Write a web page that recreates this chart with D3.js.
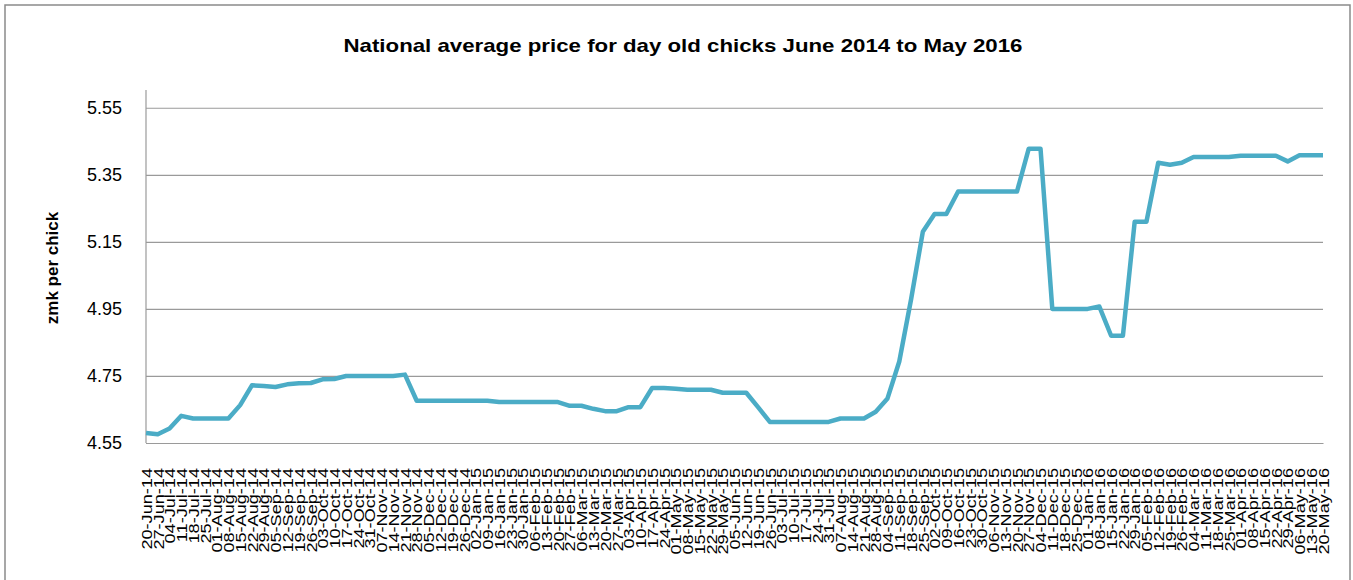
<!DOCTYPE html>
<html>
<head>
<meta charset="utf-8">
<script src="https://cdn.jsdelivr.net/npm/d3@7"></script>
<style>
    body { margin: 0; background: #fff; }
    #chart-area text { font-family: "Liberation Sans", Arial, sans-serif; fill: #000; }
</style>
</head>
<body>
<div id="chart-area"></div>
<script>
/* * * * * * * * * * * * * *
 *   Day old chick prices  *
 * * * * * * * * * * * * * */

// weekly dates (category axis)
const weekLabels = [
    "20-Jun-14","27-Jun-14","04-Jul-14","11-Jul-14","18-Jul-14","25-Jul-14","01-Aug-14","08-Aug-14",
    "15-Aug-14","22-Aug-14","29-Aug-14","05-Sep-14","12-Sep-14","19-Sep-14","26-Sep-14","03-Oct-14",
    "10-Oct-14","17-Oct-14","24-Oct-14","31-Oct-14","07-Nov-14","14-Nov-14","21-Nov-14","28-Nov-14",
    "05-Dec-14","12-Dec-14","19-Dec-14","26-Dec-14","02-Jan-15","09-Jan-15","16-Jan-15","23-Jan-15",
    "30-Jan-15","06-Feb-15","13-Feb-15","20-Feb-15","27-Feb-15","06-Mar-15","13-Mar-15","20-Mar-15",
    "27-Mar-15","03-Apr-15","10-Apr-15","17-Apr-15","24-Apr-15","01-May-15","08-May-15","15-May-15",
    "22-May-15","29-May-15","05-Jun-15","12-Jun-15","19-Jun-15","26-Jun-15","03-Jul-15","10-Jul-15",
    "17-Jul-15","24-Jul-15","31-Jul-15","07-Aug-15","14-Aug-15","21-Aug-15","28-Aug-15","04-Sep-15",
    "11-Sep-15","18-Sep-15","25-Sep-15","02-Oct-15","09-Oct-15","16-Oct-15","23-Oct-15","30-Oct-15",
    "06-Nov-15","13-Nov-15","20-Nov-15","27-Nov-15","04-Dec-15","11-Dec-15","18-Dec-15","25-Dec-15",
    "01-Jan-16","08-Jan-16","15-Jan-16","22-Jan-16","29-Jan-16","05-Feb-16","12-Feb-16","19-Feb-16",
    "26-Feb-16","04-Mar-16","11-Mar-16","18-Mar-16","25-Mar-16","01-Apr-16","08-Apr-16","15-Apr-16",
    "22-Apr-16","29-Apr-16","06-May-16","13-May-16","20-May-16"
];

// national average price, zmk per chick
const priceValues = [
    4.580, 4.576, 4.593, 4.631, 4.623, 4.623, 4.623, 4.623, 4.663, 4.722,
    4.720, 4.717, 4.725, 4.728, 4.729, 4.740, 4.741, 4.750, 4.750, 4.750,
    4.750, 4.750, 4.754, 4.676, 4.676, 4.676, 4.676, 4.676, 4.676, 4.676,
    4.672, 4.672, 4.672, 4.672, 4.672, 4.672, 4.661, 4.661, 4.652, 4.645,
    4.645, 4.657, 4.657, 4.714, 4.714, 4.712, 4.709, 4.709, 4.709, 4.700,
    4.700, 4.700, 4.657, 4.613, 4.613, 4.613, 4.613, 4.613, 4.613, 4.623,
    4.623, 4.623, 4.643, 4.683, 4.793, 4.978, 5.180, 5.233, 5.233, 5.300,
    5.300, 5.300, 5.300, 5.300, 5.300, 5.428, 5.428, 4.950, 4.950, 4.950,
    4.950, 4.957, 4.870, 4.870, 5.210, 5.210, 5.386, 5.380, 5.386, 5.403,
    5.403, 5.403, 5.403, 5.407, 5.407, 5.407, 5.407, 5.390, 5.408, 5.408,
    5.408
];

const yTicks = [4.55, 4.75, 4.95, 5.15, 5.35, 5.55];
const yDomain = [4.55, 5.60];

const chartTitle = "National average price for day old chicks June 2014 to May 2016";
const yTitle = "zmk per chick";


class PriceLine {
    constructor(parentElement, labels, values) {
        this.parentElement = parentElement;
        this.labels = labels;
        this.values = values;

        this.initVis();
    }

    initVis() {
        let vis = this;

        vis.width = 1353;
        vis.height = 580;
        vis.plot = { left: 146, right: 1323, top: 91, bottom: 443 };

        vis.svg = d3.select('#' + vis.parentElement)
            .append('svg')
            .attr('width', vis.width)
            .attr('height', vis.height);

        vis.svg.append('rect')
            .attr('width', vis.width).attr('height', vis.height)
            .attr('fill', '#fff');

        // chart border
        vis.svg.append('rect')
            .attr('x', 5).attr('y', 5)
            .attr('width', 1345).attr('height', 600)
            .attr('fill', 'none')
            .attr('stroke', '#8a8a8a')
            .attr('stroke-width', 1.5);

        vis.x = d3.scalePoint()
            .domain(vis.labels)
            .range([vis.plot.left, vis.plot.right]);

        vis.y = d3.scaleLinear()
            .domain(yDomain)
            .range([vis.plot.bottom, vis.plot.top]);

        // title
        vis.svg.append('text')
            .attr('x', 683)
            .attr('y', 52)
            .attr('text-anchor', 'middle')
            .attr('font-size', 19)
            .attr('font-weight', 'bold')
            .attr('textLength', 679)
            .attr('lengthAdjust', 'spacingAndGlyphs')
            .text(chartTitle);

        // y title
        vis.svg.append('text')
            .attr('transform', 'translate(58, 268) rotate(-90)')
            .attr('text-anchor', 'middle')
            .attr('font-size', 17)
            .attr('font-weight', 'bold')
            .text(yTitle);

        vis.updateVis();
    }

    updateVis() {
        let vis = this;

        // y axis + gridlines
        let yAxis = d3.axisLeft(vis.y)
            .tickValues(yTicks)
            .tickSize(-(vis.plot.right - vis.plot.left))
            .tickPadding(24)
            .tickFormat(d3.format('.2f'));

        let yg = vis.svg.append('g')
            .attr('class', 'y-axis')
            .attr('transform', `translate(${vis.plot.left}, 0)`)
            .call(yAxis);
        yg.select('.domain').remove();
        yg.selectAll('line').attr('stroke', '#9a9a9a').attr('stroke-width', 1.2);
        yg.selectAll('text').attr('font-size', 18);

        // left axis line
        vis.svg.append('line')
            .attr('x1', vis.plot.left).attr('x2', vis.plot.left)
            .attr('y1', vis.plot.top - 1).attr('y2', vis.plot.bottom)
            .attr('stroke', '#9a9a9a').attr('stroke-width', 1.2);

        // x axis with rotated week labels (stretched along the text like the source image)
        let xAxis = d3.axisBottom(vis.x).tickSize(0);
        let xg = vis.svg.append('g')
            .attr('class', 'x-axis')
            .attr('transform', `translate(0, ${vis.plot.bottom})`)
            .call(xAxis);
        xg.select('.domain').attr('stroke', '#9a9a9a').attr('stroke-width', 1.2);
        xg.selectAll('text')
            .attr('font-size', 14.5)
            .attr('x', -20)
            .attr('y', 0)
            .attr('dy', '0.36em')
            .attr('transform', 'rotate(-90) scale(1.25, 1)')
            .style('text-anchor', 'end');

        // price line
        let line = d3.line()
            .x((d, i) => vis.x(vis.labels[i]))
            .y(d => vis.y(d));

        vis.svg.append('path')
            .datum(vis.values)
            .attr('d', line)
            .attr('fill', 'none')
            .attr('stroke', '#4bacc6')
            .attr('stroke-width', 4.5)
            .attr('stroke-linejoin', 'round');
    }
}

new PriceLine('chart-area', weekLabels, priceValues);
</script>
</body>
</html>
